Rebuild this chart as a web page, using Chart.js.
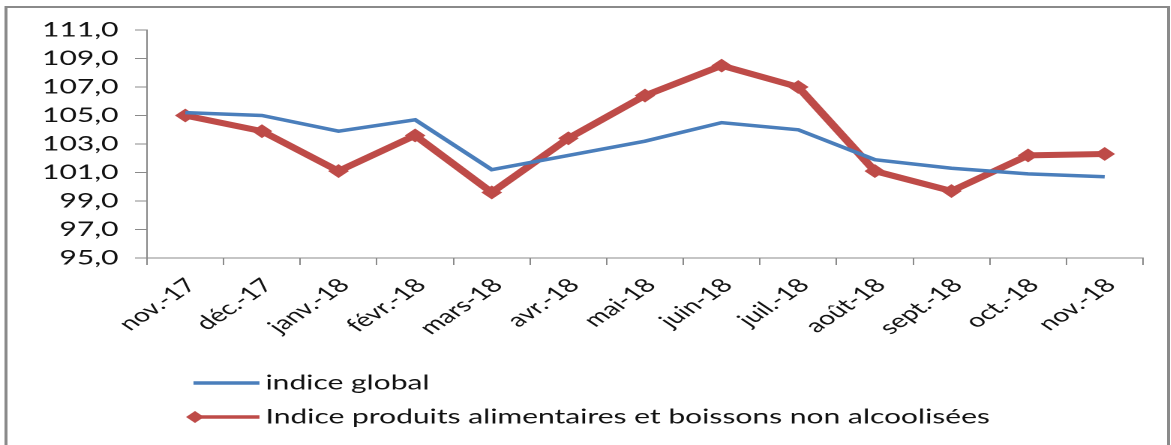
<!DOCTYPE html>
<html>
<head>
<meta charset="utf-8">
<script src="https://cdn.jsdelivr.net/npm/chart.js@4.4.1/dist/chart.umd.min.js"></script>
<style>
  html, body { margin: 0; padding: 0; background: #fff; overflow: hidden; }
  /* the original picture is stretched sideways, so draw narrow and widen */
  #wrap { width: 781px; height: 445px; transform: scaleX(1.5); transform-origin: 0 0; }
</style>
</head>
<body>
<div id="wrap"><canvas id="myChart" width="781" height="445"></canvas></div>
<script>
const months = ["nov.-17", "déc.-17", "janv.-18", "févr.-18", "mars-18", "avr.-18", "mai-18",
  "juin-18", "juil.-18", "août-18", "sept.-18", "oct.-18", "nov.-18"];
const indiceGlobal = [105.2, 105.0, 103.9, 104.7, 101.2, 102.2, 103.2, 104.5, 104.0, 101.9, 101.3, 100.9, 100.7];
const indiceAlim = [105.0, 103.9, 101.1, 103.6, 99.6, 103.4, 106.4, 108.5, 107.0, 101.1, 99.7, 102.2, 102.3];
const yMin = 95, yMax = 111, yStep = 2;

const FONT = "Lato";

// frame round the chart
const framePlugin = {
  id: "frame",
  beforeDraw(chart) {
    const ctx = chart.ctx;
    ctx.save();
    ctx.strokeStyle = "#8a8a8a";
    ctx.lineWidth = 2;
    ctx.strokeRect(4, 7, 775, 460);
    ctx.restore();
  }
};

// legend as a vertical list under the axis
const listLegend = {
  id: "listLegend",
  afterDraw(chart) {
    const ctx = chart.ctx;
    ctx.save();
    ctx.font = "20px " + FONT;
    ctx.textBaseline = "middle";
    chart.data.datasets.forEach((ds, i) => {
      const y = 383 + i * 34;
      ctx.strokeStyle = ds.borderColor;
      ctx.lineWidth = 3.5;
      ctx.beginPath();
      ctx.moveTo(129, y);
      ctx.lineTo(173, y);
      ctx.stroke();
      if (ds.pointRadius > 0) {
        ctx.fillStyle = ds.borderColor;
        ctx.beginPath();
        ctx.moveTo(130, y - 6);
        ctx.lineTo(136, y);
        ctx.lineTo(130, y + 6);
        ctx.lineTo(124, y);
        ctx.closePath();
        ctx.fill();
      }
      ctx.fillStyle = "#111";
      ctx.fillText(ds.label, 177, y);
    });
    ctx.restore();
  }
};

const ctx = document.getElementById("myChart").getContext("2d");
const myChart = new Chart(ctx, {
  type: "line",
  data: {
    labels: months,
    datasets: [
      {
        label: "indice global",
        data: indiceGlobal,
        borderColor: "#4a7ebb",
        backgroundColor: "#4a7ebb",
        borderWidth: 3.5,
        pointRadius: 0,
        tension: 0,
      },
      {
        label: "Indice produits alimentaires et boissons non alcoolisées",
        data: indiceAlim,
        borderColor: "#be4b48",
        backgroundColor: "#be4b48",
        borderWidth: 6,
        pointStyle: "rectRot",
        pointRadius: 5.5,
        pointBorderWidth: 2,
        tension: 0,
      },
    ],
  },
  options: {
    responsive: false,
    animation: false,
    devicePixelRatio: 2,
    layout: { padding: { top: 30, right: 19, left: 0, bottom: 0 } },
    plugins: {
      legend: { display: false },
      tooltip: { enabled: false },
    },
    scales: {
      x: {
        offset: true,
        grid: { display: true, drawOnChartArea: false, drawTicks: true, tickLength: 7, color: "#8a8a8a", offset: true },
        border: { color: "#8a8a8a", width: 1 },
        ticks: {
          autoSkip: false,
          minRotation: 45,
          maxRotation: 45,
          padding: 9,
          labelOffset: 4,
          color: "#111",
          font: { family: FONT, size: 19 },
        },
        afterFit(scale) { scale.height = 187; },
      },
      y: {
        min: yMin,
        max: yMax,
        grid: { display: true, drawOnChartArea: false, drawTicks: true, tickLength: 8, color: "#8a8a8a" },
        border: { color: "#8a8a8a", width: 1 },
        ticks: {
          stepSize: yStep,
          padding: 11,
          color: "#111",
          font: { family: FONT, size: 20 },
          callback: (v) => v.toFixed(1).replace(".", ","),
        },
        afterFit(scale) { scale.width = 98; },
      },
    },
  },
  plugins: [framePlugin, listLegend],
});
</script>
</body>
</html>
